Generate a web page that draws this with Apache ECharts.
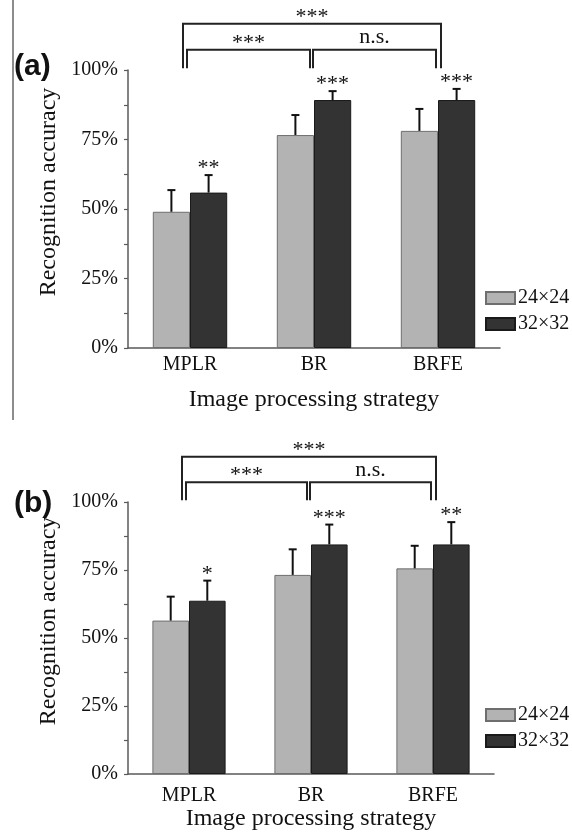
<!DOCTYPE html>
<html>
<head>
<meta charset="utf-8">
<script src="https://cdn.jsdelivr.net/npm/echarts@6/dist/echarts.min.js"></script>
<style>
html,body{margin:0;padding:0;background:#fff;}
#c{width:572px;height:833px;}
</style>
</head>
<body>
<div id="c"></div>
<script>
// ---------- data ----------
const categories = ['MPLR', 'BR', 'BRFE'];
const seriesNames = ['24×24', '32×32'];
const yTickValues = [0, 25, 50, 75, 100];

// panel (a)
const a24 = [49.0, 76.6, 78.1];
const a24Err = [7.8, 7.2, 7.9];
const a32 = [55.9, 89.2, 89.2];
const a32Err = [6.3, 3.2, 4.0];
const a32Stars = ['**', '***', '***'];

// panel (b)
const b24 = [56.4, 73.2, 75.6];
const b24Err = [8.8, 9.4, 8.3];
const b32 = [63.7, 84.4, 84.4];
const b32Err = [7.4, 7.3, 8.2];
const b32Stars = ['*', '***', '**'];

// significance brackets: [fromCategory, toCategory, level(0 inner / 1 outer)]
const bracketPairs = [[0, 2, 1], [0, 1, 0], [1, 2, 0]];
const bracketLabels = ['***', '***', 'n.s.'];

// ---------- styles ----------
const SERIF = '"Liberation Serif", "Times New Roman", serif';
const GRAY = '#b3b3b3', DARK = '#333333';
const AXIS = '#5a5a5a';

function yAxisDef(gridIndex, nameGap) {
  return {
    gridIndex, type: 'value', min: 0, max: 100, interval: 25,
    name: 'Recognition accuracy', nameLocation: 'middle', nameGap,
    nameTextStyle: {fontFamily: SERIF, fontSize: 24, color: '#111', padding: [0, 0, 0, 34]},
    axisLine: {show: true, lineStyle: {color: AXIS, width: 1.5}},
    axisTick: {show: true, length: 4, lineStyle: {color: AXIS, width: 1.2}},
    minorTick: {show: true, splitNumber: 2, length: 4, lineStyle: {color: AXIS, width: 1.2}},
    splitLine: {show: false},
    axisLabel: {fontFamily: SERIF, fontSize: 20, color: '#111', margin: 10,
      formatter: v => yTickValues.indexOf(v) >= 0 ? v + '%' : ''}
  };
}
function xAxisDef(gridIndex, labelMargin, nameGap) {
  return {
    gridIndex, type: 'category', data: categories,
    name: 'Image processing strategy', nameLocation: 'middle', nameGap,
    nameTextStyle: {fontFamily: SERIF, fontSize: 24, color: '#111'},
    axisLine: {show: true, lineStyle: {color: AXIS, width: 1.5}},
    axisTick: {show: false},
    axisLabel: {fontFamily: SERIF, fontSize: 20, color: '#111', margin: labelMargin}
  };
}

function barSeries(name, data, idx, color, border) {
  return {
    name, type: 'bar', xAxisIndex: idx, yAxisIndex: idx, data,
    barGap: '0%', barCategoryGap: '40%',
    itemStyle: {color, borderColor: border, borderWidth: 1},
    emphasis: {disabled: true}, animation: false
  };
}

function errSeries(vals, errs, stars, idx, offset) {
  return {
    type: 'custom', xAxisIndex: idx, yAxisIndex: idx, clip: false, silent: true,
    animation: false, z: 5,
    data: vals.map((v, i) => [i, v, v + errs[i]]),
    renderItem: (params, api) => {
      const base = api.coord([api.value(0), api.value(1)]);
      const top = api.coord([api.value(0), api.value(2)]);
      const band = api.size([1, 0])[0];
      const x = base[0] + offset * band;
      const children = [
        {type: 'line', shape: {x1: x, y1: base[1], x2: x, y2: top[1]},
          style: {stroke: '#111', lineWidth: 2}},
        {type: 'line', shape: {x1: x - 4, y1: top[1], x2: x + 4, y2: top[1]},
          style: {stroke: '#111', lineWidth: 2}}
      ];
      const s = stars ? stars[params.dataIndex] : '';
      if (s) {
        children.push({type: 'text', style: {text: s, x, y: top[1] - 6.5,
          align: 'center', verticalAlign: 'middle', font: '22px ' + SERIF, fill: '#111'}});
      }
      return {type: 'group', children};
    }
  };
}

function bracketSeries(idx) {
  return {
    type: 'custom', xAxisIndex: idx, yAxisIndex: idx, clip: false, silent: true,
    animation: false, z: 6,
    data: bracketPairs,
    renderItem: (params, api) => {
      const i = api.value(0), j = api.value(1), L = api.value(2);
      const ci = api.coord([i, 0])[0], cj = api.coord([j, 0])[0];
      const yTop = api.coord([0, L ? 116.6 : 107.3])[1];
      const yBot = api.coord([0, 100.6])[1];
      const x1 = ci + (L ? -7 : (i === 0 ? -3 : -1));
      const x2 = cj + (L ? 3 : (j === 2 ? -2 : -4));
      const lab = bracketLabels[params.dataIndex];
      const isStar = lab.indexOf('*') >= 0;
      return {type: 'group', children: [
        {type: 'polyline', shape: {points: [[x1, yBot], [x1, yTop], [x2, yTop], [x2, yBot]]},
          style: {stroke: '#222', lineWidth: 2, fill: null}},
        {type: 'text', style: {text: lab, x: (x1 + x2) / 2, y: yTop - (isStar ? 6.5 : 12),
          align: 'center', verticalAlign: 'middle', font: '22px ' + SERIF, fill: '#111'}}
      ]};
    }
  };
}

function legendDef(top) {
  return {data: seriesNames, orient: 'vertical', left: 485, top, padding: 0,
    itemWidth: 29, itemHeight: 12, itemGap: 6, icon: 'rect', selectedMode: false,
    textStyle: {fontFamily: SERIF, fontSize: 20, color: '#111', padding: [0, 0, 0, -2]}};
}

const chart = echarts.init(document.getElementById('c'), null, {renderer: 'canvas'});
chart.setOption({
  backgroundColor: '#fff',
  animation: false,
  grid: [
    {left: 128, top: 70, width: 372, height: 278},
    {left: 128, top: 502, width: 366, height: 272}
  ],
  xAxis: [xAxisDef(0, 7, 40), xAxisDef(1, 12, 31)],
  yAxis: [yAxisDef(0, 64), yAxisDef(1, 60)],
  legend: [legendDef(288), legendDef(705)],
  graphic: [
    {type: 'line', shape: {x1: 13, y1: 0, x2: 13, y2: 420}, style: {stroke: '#666', lineWidth: 1.5}},
    {type: 'text', left: 14, top: 52, style: {text: '(a)', font: 'bold 30px "Liberation Sans", Arial, sans-serif', fill: '#111'}},
    {type: 'text', left: 14, top: 489, style: {text: '(b)', font: 'bold 30px "Liberation Sans", Arial, sans-serif', fill: '#111'}}
  ],
  series: [
    barSeries(seriesNames[0], a24, 0, GRAY, '#6e6e6e'),
    barSeries(seriesNames[1], a32, 0, DARK, '#1a1a1a'),
    errSeries(a24, a24Err, null, 0, -0.15),
    errSeries(a32, a32Err, a32Stars, 0, 0.15),
    bracketSeries(0),
    barSeries(seriesNames[0], b24, 1, GRAY, '#6e6e6e'),
    barSeries(seriesNames[1], b32, 1, DARK, '#1a1a1a'),
    errSeries(b24, b24Err, null, 1, -0.15),
    errSeries(b32, b32Err, b32Stars, 1, 0.15),
    bracketSeries(1)
  ]
});
</script>
</body>
</html>
